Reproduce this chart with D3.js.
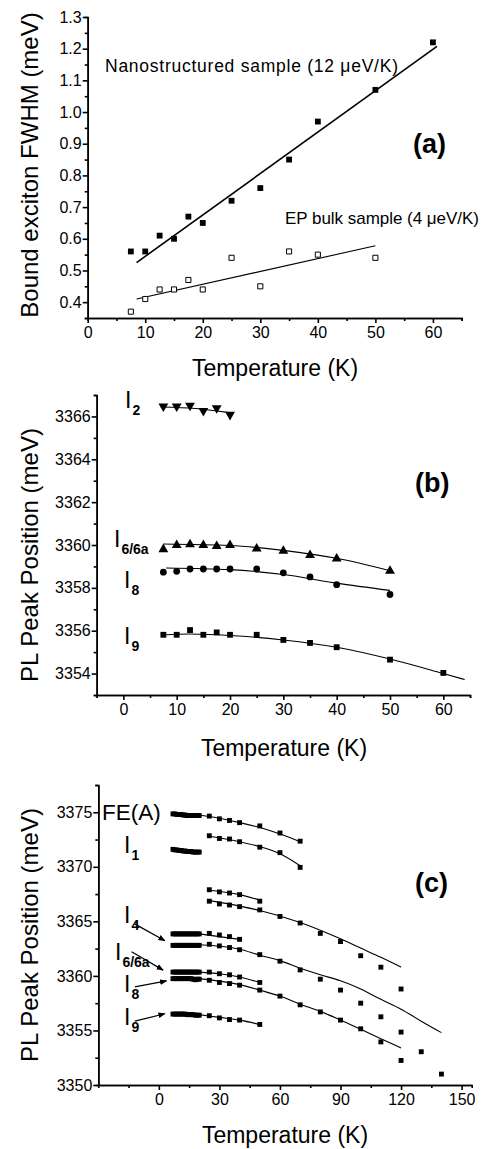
<!DOCTYPE html>
<html>
<head>
<meta charset="utf-8">
<script src="https://cdn.jsdelivr.net/npm/d3@7"></script>
<style>
  body { margin: 0; background: #fff; }
  svg { display: block; font-family: "Liberation Sans", Arial, Helvetica, sans-serif; }
  .axis path, .axis line { stroke: #000; stroke-width: 1.6; }
  .axis text { font-size: 16px; fill: #000; font-family: "Liberation Sans", Arial, sans-serif; }
</style>
</head>
<body>
<svg id="chart" width="482" height="1149"></svg>
<script>
// ---------- panel (a): FWHM vs T ----------
const tempA = [7.5, 10, 12.5, 15, 17.5, 20, 25, 30, 35, 40, 50, 60];
const nanoFwhm = [0.56, 0.56, 0.61, 0.60, 0.67, 0.65, 0.72, 0.76, 0.85, 0.97, 1.07, 1.22];
const tempBulk = [7.5, 10, 12.5, 15, 17.5, 20, 25, 30, 35, 40, 50];
const bulkFwhm = [0.37, 0.41, 0.44, 0.44, 0.47, 0.44, 0.54, 0.45, 0.56, 0.55, 0.54];
const nanoFitT = [8.5, 60.7];
const nanoFitV = [0.525, 1.207];
const bulkFitT = [8.5, 50];
const bulkFitV = [0.41, 0.578];

// ---------- panel (b): peak positions, nanostructured ----------
const tempB = [7.5, 10, 12.5, 15, 17.5, 20, 25, 30, 35, 40, 50];
const tempB9 = [7.5, 10, 12.5, 15, 17.5, 20, 25, 30, 35, 40, 50, 60];
const tempB2 = [7.5, 10, 12.5, 15, 17.5, 20];
const bI2 = [3366.47, 3366.47, 3366.51, 3366.26, 3366.39, 3366.08];
const bI6 = [3359.80, 3359.99, 3360.03, 3359.99, 3359.95, 3359.99, 3359.83, 3359.72, 3359.53, 3359.36, 3358.79];
const bI8 = [3358.73, 3358.77, 3358.88, 3358.88, 3358.88, 3358.88, 3358.88, 3358.70, 3358.51, 3358.15, 3357.69];
const bI9 = [3355.81, 3355.81, 3356.03, 3355.81, 3355.92, 3355.81, 3355.81, 3355.57, 3355.43, 3355.23, 3354.65, 3354.03];
const fitB2T = [7, 13.5, 19.5];
const fitB2V = [3366.44, 3366.37, 3366.19];
const fitB6T = [7.5, 20, 30, 40, 50];
const fitB6V = [3360.05, 3359.98, 3359.75, 3359.38, 3358.80];
const fitB8T = [8, 20, 30, 40, 50];
const fitB8V = [3358.93, 3358.85, 3358.62, 3358.22, 3357.88];
const fitB9T = [7.5, 12.5, 20, 30, 40, 50, 60, 64];
const fitB9V = [3355.80, 3355.85, 3355.78, 3355.57, 3355.23, 3354.68, 3354.00, 3353.72];

// ---------- panel (c): peak positions, bulk ----------
const denseT = [7, 8, 9, 10, 11, 12, 13, 14, 15, 16, 17, 18, 19, 20];
const cFEdense = [3374.85, 3374.85, 3374.8, 3374.8, 3374.8, 3374.75, 3374.75, 3374.7, 3374.7, 3374.7, 3374.7, 3374.7, 3374.7, 3374.7];
const cI1dense = [3371.6, 3371.55, 3371.55, 3371.5, 3371.5, 3371.45, 3371.45, 3371.4, 3371.4, 3371.4, 3371.35, 3371.35, 3371.35, 3371.35];
const cI4dense = [3363.85, 3363.85, 3363.85, 3363.85, 3363.85, 3363.85, 3363.85, 3363.85, 3363.85, 3363.85, 3363.85, 3363.85, 3363.85, 3363.85];
const cI4bdense = [3362.8, 3362.8, 3362.8, 3362.8, 3362.8, 3362.8, 3362.8, 3362.8, 3362.8, 3362.8, 3362.8, 3362.8, 3362.8, 3362.8];
const cI6dense = [3360.35, 3360.35, 3360.35, 3360.35, 3360.35, 3360.35, 3360.35, 3360.35, 3360.35, 3360.35, 3360.35, 3360.35, 3360.35, 3360.35];
const cI8dense = [3359.75, 3359.75, 3359.75, 3359.75, 3359.75, 3359.75, 3359.75, 3359.75, 3359.75, 3359.75, 3359.7, 3359.65, 3359.7, 3359.7];
const cI9dense = [3356.5, 3356.5, 3356.5, 3356.5, 3356.5, 3356.5, 3356.5, 3356.45, 3356.45, 3356.45, 3356.45, 3356.4, 3356.4, 3356.4];

const tempC7 = [25, 30, 35, 40, 50, 60, 70];
const tempC5 = [25, 30, 35, 40, 50];
const tempC4 = [25, 30, 35, 40];
const tempC12 = [25, 30, 35, 40, 50, 60, 70, 80, 90, 100, 110, 120];
const tempC14 = [25, 30, 35, 40, 50, 60, 70, 80, 90, 100, 110, 120, 130, 140];
const cFEhigh = [3374.65, 3374.4, 3374.25, 3374.05, 3373.75, 3373.1, 3372.35];
const cI1high = [3372.85, 3372.6, 3372.55, 3372.3, 3371.8, 3371.3, 3369.95];
const cUpperShort = [3367.9, 3367.7, 3367.6, 3367.45, 3366.85];
const cUpperLong = [3366.85, 3366.6, 3366.5, 3366.35, 3366.05, 3365.45, 3364.85, 3363.9, 3363.15, 3361.85, 3360.8, 3358.8];
const cI4high = [3363.9, 3363.75, 3363.6, 3363.35];
const cI4bhigh = [3362.9, 3362.75, 3362.6, 3362.4, 3361.95, 3361.35, 3360.55, 3359.7, 3358.7, 3357.5, 3356.25, 3354.85, 3353.05, 3351.0];
const cI6high = [3360.35, 3360.2, 3360.1, 3359.9, 3359.4];
const cI8high = [3359.6, 3359.4, 3359.3, 3359.15, 3358.7, 3358.15, 3357.35, 3356.7, 3355.95, 3355.15, 3353.95, 3352.25];
const cI9high = [3356.35, 3356.15, 3356.0, 3355.95, 3355.55];

const fitsC = [
  [[20, 30, 40, 50, 60, 70], [3374.75, 3374.45, 3374.05, 3373.6, 3373.0, 3372.3]],
  [[25, 40, 50, 60, 70], [3372.8, 3372.3, 3371.85, 3371.2, 3370.1]],
  [[25, 40, 50], [3367.85, 3367.45, 3366.95]],
  [[25, 40, 50, 70, 90, 100, 110, 120], [3366.9, 3366.4, 3366.0, 3364.9, 3363.4, 3362.55, 3361.7, 3360.8]],
  [[20, 40], [3363.85, 3363.35]],
  [[20, 40, 50, 60, 70, 80, 90, 100, 110, 120, 130, 140], [3362.85, 3362.45, 3361.9, 3361.4, 3360.7, 3360.1, 3359.55, 3358.8, 3357.85, 3356.95, 3355.85, 3354.8]],
  [[20, 30, 40, 50], [3360.35, 3360.2, 3359.9, 3359.4]],
  [[20, 40, 50, 60, 70, 80, 90, 100, 110, 120], [3359.75, 3359.2, 3358.7, 3358.15, 3357.4, 3356.75, 3355.95, 3355.1, 3354.25, 3353.4]],
  [[20, 30, 40, 50], [3356.45, 3356.2, 3355.95, 3355.55]]
];

// arrows in panel (c), [T0, E0, T1, E1]
const arrowsC = [
  [-12, 3364.77, 3.0, 3363.23],
  [-13.5, 3362.22, 2.1, 3360.53],
  [-11.9, 3358.99, 3.8, 3359.54],
  [-11.9, 3355.86, 3.0, 3356.53]
];

const zip = (xs, ys) => xs.map((x, i) => [x, ys[i]]);

const svg = d3.select('#chart');
svg.append('rect').attr('width', 482).attr('height', 1149).attr('fill', '#fff');

const defs = svg.append('defs');
defs.append('marker')
  .attr('id', 'arrow')
  .attr('viewBox', '0 0 10 10')
  .attr('refX', 9).attr('refY', 5)
  .attr('markerWidth', 6).attr('markerHeight', 6)
  .attr('orient', 'auto')
  .append('path').attr('d', 'M0,1 L10,5 L0,9 z').attr('fill', '#000');

function panel(cfg) {
  const x = d3.scaleLinear().domain(cfg.xDomain).range(cfg.xRange);
  const y = d3.scaleLinear().domain(cfg.yDomain).range(cfg.yRange);
  const g = svg.append('g');

  const bottom = cfg.yRange[0];
  const left = cfg.xRange[0];

  g.append('g').attr('class', 'axis')
    .attr('transform', `translate(0,${bottom})`)
    .call(d3.axisBottom(x).tickValues(cfg.xMinor).tickSize(3).tickFormat(''));
  g.append('g').attr('class', 'axis')
    .attr('transform', `translate(0,${bottom})`)
    .call(d3.axisBottom(x).tickValues(cfg.xMajor).tickSize(5).tickSizeOuter(0).tickPadding(4).tickFormat(cfg.xFormat));
  g.append('g').attr('class', 'axis')
    .attr('transform', `translate(${left},0)`)
    .call(d3.axisLeft(y).tickValues(cfg.yMinor).tickSize(3).tickFormat(''));
  g.append('g').attr('class', 'axis')
    .attr('transform', `translate(${left},0)`)
    .call(d3.axisLeft(y).tickValues(cfg.yMajor).tickSize(5).tickSizeOuter(0).tickPadding(1).tickFormat(cfg.yFormat));
  g.selectAll('.axis .domain').attr('stroke-width', 2);

  g.append('text')
    .attr('x', cfg.xTitle[0]).attr('y', cfg.xTitle[1])
    .attr('text-anchor', 'middle').attr('font-size', 23)
    .text('Temperature (K)');
  g.append('text')
    .attr('transform', `translate(${cfg.yTitle[0]},${cfg.yTitle[1]}) rotate(-90)`)
    .attr('text-anchor', 'middle').attr('font-size', 24)
    .text(cfg.yTitleText);
  g.append('text')
    .attr('x', cfg.tag[0]).attr('y', cfg.tag[1])
    .attr('font-size', 27).attr('font-weight', 'bold')
    .text(cfg.tagText);
  return { x, y, g };
}

const fitLine = (x, y) => d3.line().x(d => x(d[0])).y(d => y(d[1])).curve(d3.curveMonotoneX);

function scatter(g, x, y, pts, type, size, filled = true) {
  const sym = d3.symbol().type(type).size(size);
  g.selectAll(null).data(pts).enter().append('path')
    .attr('d', sym)
    .attr('transform', d => `translate(${x(d[0])},${y(d[1])})`)
    .attr('fill', filled ? '#000' : '#fff')
    .attr('stroke', '#000')
    .attr('stroke-width', filled ? 0 : 1);
}

function label(g, px, py, main, sub, size = 23, subSize = 14) {
  const t = g.append('text').attr('x', px).attr('y', py).attr('font-size', size);
  t.append('tspan').text(main);
  if (sub) {
    t.append('tspan').attr('dy', 7).attr('dx', 1)
      .attr('font-size', subSize).attr('font-weight', 'bold').text(sub);
  }
}

// ---- (a)
{
  const { x, y, g } = panel({
    xDomain: [0, 65], xRange: [87.7, 461.7],
    yDomain: [0.35, 1.3], yRange: [318, 17],
    xMajor: d3.range(0, 61, 10), xMinor: d3.range(5, 66, 10),
    yMajor: d3.range(4, 14).map(v => v / 10), yMinor: d3.range(7, 27, 2).map(v => v / 20),
    xFormat: d3.format('d'), yFormat: d3.format('.1f'),
    xTitle: [275, 376], yTitle: [38, 165], yTitleText: 'Bound exciton FWHM (meV)',
    tag: [413, 153], tagText: '(a)'
  });
  g.append('path').datum(zip(nanoFitT, nanoFitV)).attr('d', fitLine(x, y))
    .attr('fill', 'none').attr('stroke', '#000').attr('stroke-width', 1.6);
  g.append('path').datum(zip(bulkFitT, bulkFitV)).attr('d', fitLine(x, y))
    .attr('fill', 'none').attr('stroke', '#000').attr('stroke-width', 1.1);
  scatter(g, x, y, zip(tempA, nanoFwhm), d3.symbolSquare, 34);
  scatter(g, x, y, zip(tempBulk, bulkFwhm), d3.symbolSquare, 26, false);
  g.append('text').attr('x', 105).attr('y', 72).attr('font-size', 17.5)
    .attr('textLength', 293).attr('lengthAdjust', 'spacing')
    .text('Nanostructured sample (12 \u03BCeV/K)');
  g.append('text').attr('x', 285).attr('y', 224).attr('font-size', 17)
    .attr('textLength', 194).attr('lengthAdjust', 'spacing')
    .text('EP bulk sample (4 \u03BCeV/K)');
}

// ---- (b)
{
  const { x, y, g } = panel({
    xDomain: [-5, 65], xRange: [96.7, 470],
    yDomain: [3353, 3367], yRange: [695, 395],
    xMajor: d3.range(0, 61, 10), xMinor: d3.range(-5, 66, 10),
    yMajor: d3.range(3354, 3367, 2), yMinor: d3.range(3353, 3368, 2),
    xFormat: d3.format('d'), yFormat: d3.format('d'),
    xTitle: [284, 756], yTitle: [38, 555], yTitleText: 'PL Peak Position (meV)',
    tag: [415, 492], tagText: '(b)'
  });
  [[fitB2T, fitB2V], [fitB6T, fitB6V], [fitB8T, fitB8V], [fitB9T, fitB9V]].forEach(([t, v]) => {
    g.append('path').datum(zip(t, v)).attr('d', fitLine(x, y))
      .attr('fill', 'none').attr('stroke', '#000').attr('stroke-width', 1.1);
  });
  const down = d3.symbol().type(d3.symbolTriangle).size(42);
  g.selectAll(null).data(zip(tempB2, bI2)).enter().append('path')
    .attr('d', down)
    .attr('transform', d => `translate(${x(d[0])},${y(d[1])}) rotate(180)`)
    .attr('fill', '#000');
  scatter(g, x, y, zip(tempB, bI6), d3.symbolTriangle, 42);
  scatter(g, x, y, zip(tempB, bI8), d3.symbolCircle, 36);
  scatter(g, x, y, zip(tempB9, bI9), d3.symbolSquare, 34);
  label(g, 125, 408, 'I', '2');
  label(g, 114, 547, 'I', '6/6a');
  label(g, 124, 588, 'I', '8');
  label(g, 124, 644, 'I', '9');
}

// ---- (c)
{
  const { x, y, g } = panel({
    xDomain: [-30, 155], xRange: [98.3, 471.7],
    yDomain: [3350, 3377.5], yRange: [1085, 785],
    xMajor: d3.range(0, 151, 30), xMinor: d3.range(-15, 151, 30),
    yMajor: d3.range(3350, 3376, 5), yMinor: d3.range(3352.5, 3378, 5),
    xFormat: d3.format('d'), yFormat: d3.format('d'),
    xTitle: [285, 1143], yTitle: [38, 935], yTitleText: 'PL Peak Position (meV)',
    tag: [415, 892], tagText: '(c)'
  });
  fitsC.forEach(([t, v]) => {
    g.append('path').datum(zip(t, v)).attr('d', fitLine(x, y))
      .attr('fill', 'none').attr('stroke', '#000').attr('stroke-width', 1.1);
  });
  [cFEdense, cI1dense, cI4dense, cI4bdense, cI6dense, cI8dense, cI9dense].forEach(vals => {
    scatter(g, x, y, zip(denseT, vals), d3.symbolSquare, 24);
  });
  [[tempC7, cFEhigh], [tempC7, cI1high], [tempC5, cUpperShort], [tempC12, cUpperLong],
   [tempC4, cI4high], [tempC14, cI4bhigh], [tempC5, cI6high], [tempC12, cI8high], [tempC5, cI9high]]
    .forEach(([t, v]) => scatter(g, x, y, zip(t, v), d3.symbolSquare, 24));

  g.selectAll(null).data(arrowsC).enter().append('line')
    .attr('x1', d => x(d[0])).attr('y1', d => y(d[1]))
    .attr('x2', d => x(d[2])).attr('y2', d => y(d[3]))
    .attr('stroke', '#000').attr('stroke-width', 1.2)
    .attr('marker-end', 'url(#arrow)');

  g.append('text').attr('x', 102).attr('y', 820).attr('font-size', 22.5).text('FE(A)');
  label(g, 124, 853, 'I', '1');
  label(g, 124, 923, 'I', '4');
  label(g, 115, 960, 'I', '6/6a');
  label(g, 124, 992, 'I', '8');
  label(g, 124, 1025, 'I', '9');
}
</script>
</body>
</html>
